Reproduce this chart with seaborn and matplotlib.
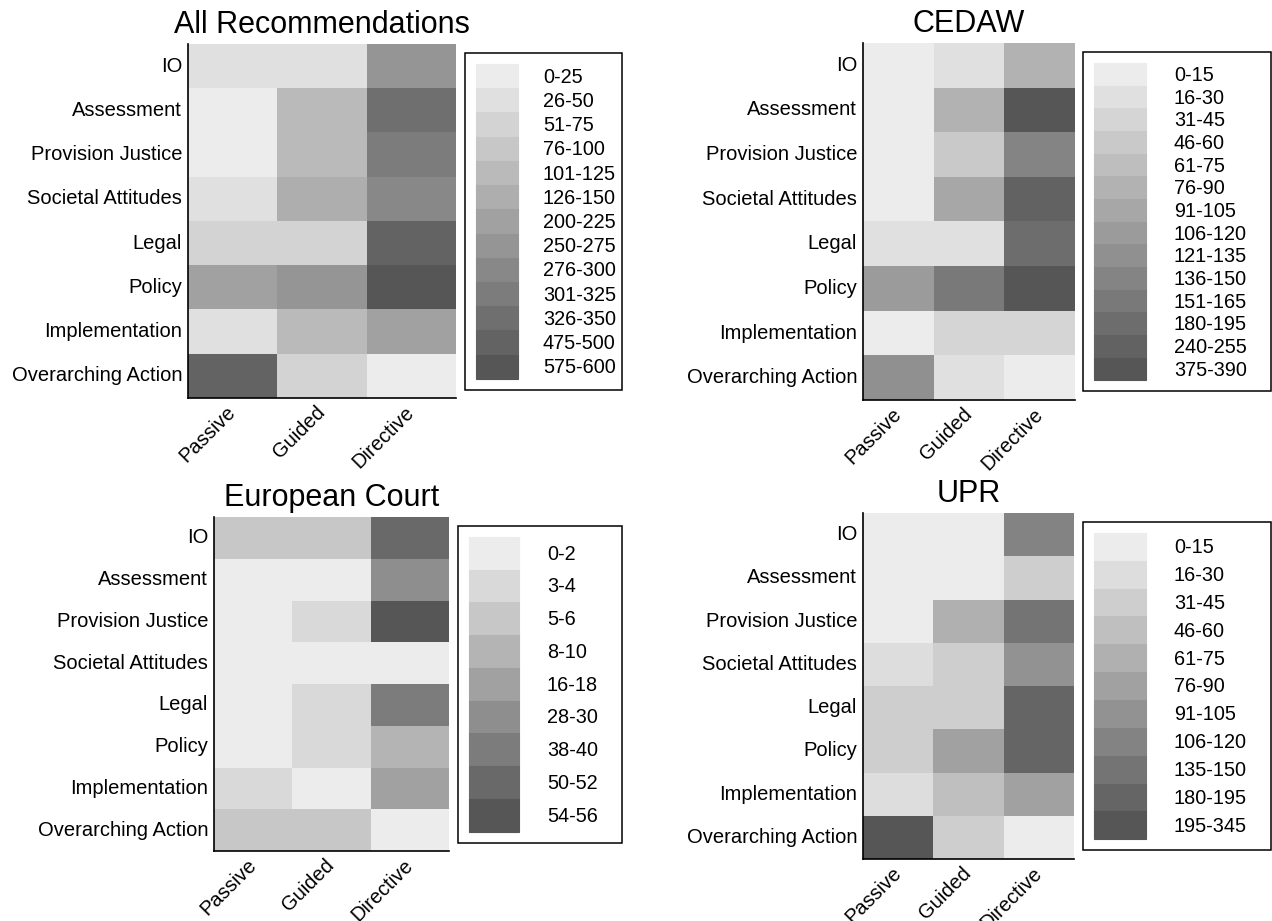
#!/usr/bin/env python3
# -*- coding: utf-8 -*-

import numpy as np
import pandas as pd
import matplotlib
matplotlib.use("Agg")
import matplotlib.pyplot as plt
from matplotlib.colors import ListedColormap
from matplotlib.patches import Patch
import seaborn as sns

sns.set_style("white")
plt.rcParams["font.family"] = ["Liberation Sans", "DejaVu Sans"]
plt.rcParams["text.color"] = "black"

W, H = 1272, 921

ROWS = ["IO", "Assessment", "Provision Justice", "Societal Attitudes",
        "Legal", "Policy", "Implementation", "Overarching Action"]
COLS = ["Passive", "Guided", "Directive"]

# Count ranges shown in each legend (light -> dark)
ALL_BINS = ["0-25", "26-50", "51-75", "76-100", "101-125", "126-150", "200-225",
            "250-275", "276-300", "301-325", "326-350", "475-500", "575-600"]
CEDAW_BINS = ["0-15", "16-30", "31-45", "46-60", "61-75", "76-90", "91-105",
              "106-120", "121-135", "136-150", "151-165", "180-195", "240-255", "375-390"]
ECHR_BINS = ["0-2", "3-4", "5-6", "8-10", "16-18", "28-30", "38-40", "50-52", "54-56"]
UPR_BINS = ["0-15", "16-30", "31-45", "46-60", "61-75", "76-90", "91-105",
            "106-120", "135-150", "180-195", "195-345"]

# Range index of each cell (rows as ROWS, columns Passive / Guided / Directive)
ALL_LEVELS = [[1, 1, 7],
              [0, 4, 10],
              [0, 4, 9],
              [1, 5, 8],
              [2, 2, 11],
              [6, 7, 12],
              [1, 4, 6],
              [11, 2, 0]]
CEDAW_LEVELS = [[0, 1, 5],
                [0, 5, 13],
                [0, 3, 9],
                [0, 6, 12],
                [1, 1, 11],
                [7, 10, 13],
                [0, 2, 2],
                [8, 1, 0]]
ECHR_LEVELS = [[2, 2, 7],
               [0, 0, 5],
               [0, 1, 8],
               [0, 0, 0],
               [0, 1, 6],
               [0, 1, 3],
               [1, 0, 4],
               [2, 2, 0]]
UPR_LEVELS = [[0, 0, 7],
              [0, 0, 2],
              [0, 4, 8],
              [1, 2, 6],
              [2, 2, 9],
              [2, 5, 9],
              [1, 3, 5],
              [10, 2, 0]]

# title, bins, levels, heatmap box (px), legend box (px), legend handle sizes
PANELS = [
    ("All Recommendations", ALL_BINS, ALL_LEVELS, (188, 44, 456, 398), (465, 53, 622), 2.11, 1.26, 1.50),
    ("CEDAW", CEDAW_BINS, CEDAW_LEVELS, (863, 43, 1075, 400), (1083, 52, 1271), 2.61, 1.41, 1.38),
    ("European Court", ECHR_BINS, ECHR_LEVELS, (214, 517, 449, 851), (458, 526, 622), 2.51, 1.41, 2.16),
    ("UPR", UPR_BINS, UPR_LEVELS, (863, 513, 1074, 859), (1083, 522, 1271), 2.61, 1.41, 1.78),
]


def grey_levels(n):
    vals = np.linspace(236, 86, n) / 255.0
    return [(v, v, v) for v in vals]


def main():
    fig = plt.figure(figsize=(W / 100, H / 100), dpi=100)

    for title, bins, levels, hbox, lbox, hlen, htpad, hheight in PANELS:
        x0, y0, x1, y1 = hbox
        ax = fig.add_axes([x0 / W, 1 - y1 / H, (x1 - x0) / W, (y1 - y0) / H])
        colors = grey_levels(len(bins))
        df = pd.DataFrame(levels, index=ROWS, columns=COLS)

        sns.heatmap(df, ax=ax, cmap=ListedColormap(colors), vmin=-0.5,
                    vmax=len(bins) - 0.5, cbar=False, linewidths=0,
                    xticklabels=COLS, yticklabels=ROWS)

        for side in ["left", "bottom"]:
            ax.spines[side].set_visible(True)
            ax.spines[side].set_color("black")
            ax.spines[side].set_linewidth(1.2)

        ax.tick_params(axis="both", length=0, labelsize=14.5, colors="black")
        ax.tick_params(axis="y", pad=4.3)
        ax.tick_params(axis="x", pad=8)
        plt.setp(ax.get_yticklabels(), rotation=0, ha="right", va="center")
        plt.setp(ax.get_xticklabels(), rotation=45, ha="right", va="center",
                 rotation_mode="anchor")
        ax.set_xlabel("")
        ax.set_ylabel("")
        ax.set_title(title, fontsize=22, pad=8, color="black")

        handles = [Patch(facecolor=c, edgecolor=c, linewidth=0.8) for c in colors]
        lx0, ly0, lx1 = lbox
        leg = fig.legend(handles, bins, loc="upper left",
                         bbox_to_anchor=(lx0 / W, 1 - ly0 / H, (lx1 - lx0) / W, 0),
                         bbox_transform=fig.transFigure, mode="expand",
                         borderaxespad=0, borderpad=0.55, labelspacing=0,
                         handlelength=hlen, handletextpad=htpad, handleheight=hheight,
                         fontsize=14.3, frameon=True, fancybox=False, framealpha=1)
        leg.get_frame().set_edgecolor("black")
        leg.get_frame().set_linewidth(1.1)

    fig.savefig("out.png", dpi=100)
    plt.close(fig)


if __name__ == "__main__":
    main()
